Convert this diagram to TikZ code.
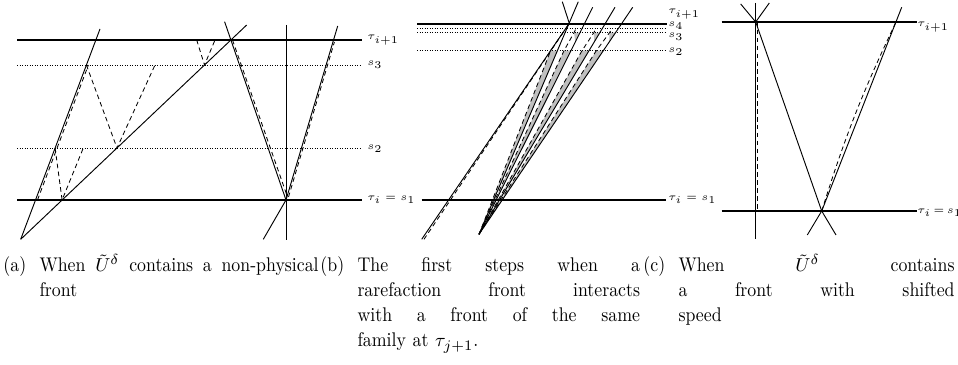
\documentclass[tikz,border=0pt]{standalone}
\usepackage{amsmath}
\usepackage{amssymb}
\usepackage{fontspec}
\newfontfamily\capfont{lmroman10-regular.otf}[FakeStretch=0.9]
\usetikzlibrary{positioning, calc}
\tikzset{
  level/.style={line width=0.5pt},
  sublevel/.style={line width=0.4pt, dash pattern=on 0.5pt off 0.7pt},
  front/.style={line width=0.45pt},
  approx/.style={line width=0.4pt, dash pattern=on 2.2pt off 1.6pt},
  fanshade/.style={fill=black!25, draw=none},
  lvla/.style={anchor=west, inner sep=0pt, font=\fontsize{4.5}{5}\selectfont},
  lvlb/.style={anchor=west, inner sep=0pt, font=\fontsize{5}{6}\selectfont},
  lvlc/.style={anchor=west, inner sep=0pt, font=\fontsize{5}{6}\selectfont},
  caplabel/.style={anchor=base west, inner sep=0pt, font=\capfont\fontsize{9.5}{12}\selectfont},
  capbody/.style={inner sep=0pt, align=left, font=\capfont\fontsize{9.5}{12}\selectfont},
}
\newcommand{\capline}[2]{\leavevmode\hbox to #1{#2}}
\newcommand{\gap}{\hspace{0pt plus 1fil}}

\begin{document}
\begin{tikzpicture}[x=0.48pt, y=-0.48pt]
  \useasboundingbox (0,0) rectangle (958,365);

  % (a) non-physical front
  \coordinate (aO) at (20.7,239.3);
  \coordinate (aP) at (62.1,200);
  \coordinate (aR) at (117,148);
  \coordinate (aS) at (204.5,65);
  \coordinate (aT) at (230.9,40);
  \coordinate (aQ) at (286,200);

  \draw[level] (17,40) -- (362,40);
  \draw[sublevel] (17,65) -- (362,65);
  \draw[sublevel] (17,148) -- (362,148);
  \draw[level] (17,200) -- (362,200);
  \node[lvla] (a-tau1) at (367,40) {$\tau_{i+1}$};
  \node[lvla] (a-s3) at (367,65) {$s_3$};
  \node[lvla] (a-s2) at (367,149) {$s_2$};
  \node[lvla] (a-tau0) at (367,200) {$\tau_i=s_1$};

  \draw[front] (aO) -- (100,29);
  \draw[approx] (37.5,200) -- (88.4,65);
  \draw[front] (aO) -- (246.7,25);
  \draw[approx] (55.1,148) -- (aP) -- (83.3,148);
  \draw[approx] (86.4,65) -- (aR) -- (155,65);
  \draw[approx] (196.7,40) -- (aS) -- (215,40);

  \draw[front] (224.6,21.7) -- (aQ);
  \draw[approx] (232.5,40) -- (287.5,197);
  \draw[front] (aQ) -- (337.7,26);
  \draw[approx] (288.5,197) -- (334.4,42);
  \draw[front] (286,25) -- (286,240);
  \draw[front] (263.3,239.3) -- (aQ);

  % (b) rarefaction meets a front of the same family
  \coordinate (bF) at (479,234.3);
  \coordinate (bM) at (569.3,23.3);

  \fill[fanshade] (bF) -- (550.6,50.7) -- (557.6,50.7) -- cycle;
  \fill[fanshade] (bF) -- (564,50.7) -- (571,50.7) -- cycle;
  \fill[fanshade] (bF) -- (582,50.7) -- (589,50.7) -- cycle;
  \fill[fanshade] (bF) -- (596.3,50.7) -- (603.3,50.7) -- cycle;
  \fill[fanshade] (575.3,42) -- (574,32.7) -- (580,32.7) -- cycle;
  \fill[fanshade] (594.2,42) -- (593.8,32.7) -- (599.8,32.7) -- cycle;
  \fill[fanshade] (609.2,42) -- (609.5,32.7) -- (615.5,32.7) -- cycle;

  \draw[level] (417,24) -- (667,24);
  \draw[sublevel] (417,28.5) -- (667,28.5);
  \draw[sublevel] (417,32.7) -- (667,32.7);
  \draw[sublevel] (417,50.7) -- (667,50.7);
  \draw[level] (421.7,200) -- (665.7,200);
  \node[lvlb] (b-tau1) at (668,14) {$\tau_{i+1}$};
  \node[lvlb] (b-s4) at (668,26) {$s_4$};
  \node[lvlb] (b-s3) at (668,37) {$s_3$};
  \node[lvlb] (b-s2) at (668,51.7) {$s_2$};
  \node[lvlb] (b-tau0) at (668,200) {$\tau_i=s_1$};

  \draw[approx] (bF) -- (550.6,50.7) -- (563,32.7);
  \draw[approx] (bF) -- (564,50.7) -- (574,32.7) -- (576,28.5);
  \draw[approx] (bF) -- (582,50.7) -- (593.8,32.7) -- (596,28.5);
  \draw[approx] (bF) -- (596.3,50.7) -- (609.5,32.7) -- (612,28.5);

  \draw[front] (421.7,239.3) -- (bM);
  \draw[approx] (424,239.3) -- (bM);
  \draw[front] (bF) -- (578.3,1.7);
  \draw[front] (bF) -- (592.7,7.3);
  \draw[front] (bF) -- (615,7.3);
  \draw[front] (bF) -- (632.7,7.3);
  \draw[front] (bM) -- (562.3,1.7);

  % (c) front with shifted speed
  \coordinate (cA) at (755.7,22);
  \coordinate (cB) at (821.7,211);

  \draw[level] (721.7,22) -- (916.7,22);
  \draw[level] (721.7,211) -- (916.7,211);
  \node[lvlc] (c-tau1) at (917,27) {$\tau_{i+1}$};
  \node[lvlc] (c-tau0) at (917,213) {$\tau_i\,{=}\,s_1$};

  \draw[front] (755.7,3) -- (755.7,239.3);
  \draw[approx] (757.7,22) -- (757.7,211);
  \draw[front] (740.7,4) -- (cA) -- (769.3,3);
  \draw[front] (cA) -- (cB) -- (836,235);
  \draw[front] (807.3,235) -- (cB) -- (901.7,7.3);
  \draw[approx] (cB) to[bend left=4] (896,22);

  % captions
  \node[caplabel] (cap-a) at (3,272) {(a)};
  \node[capbody, text width=134pt, right=6pt of cap-a.base east, anchor=base west]
    (cap-a-text) {\capline{134pt}{When\gap $\tilde{U}^{\delta}$\gap contains\gap a\gap non-physical}\\ front};
  \node[caplabel] (cap-b) at (320,272) {(b)};
  \node[capbody, text width=135.6pt, right=6pt of cap-b.base east, anchor=base west]
    (cap-b-text) {\capline{135.6pt}{The\gap first\gap steps\gap when\gap a}\\
    \capline{135.6pt}{rarefaction\gap front\gap interacts}\\
    \capline{135.6pt}{with\gap a\gap front\gap of\gap the\gap same}\\ family at $\tau_{j+1}$.};
  \node[caplabel] (cap-c) at (643,272) {(c)};
  \node[capbody, text width=132.5pt, right=6pt of cap-c.base east, anchor=base west]
    (cap-c-text) {\capline{132.5pt}{When\gap $\tilde{U}^{\delta}$\gap contains}\\
    \capline{132.5pt}{a\gap front\gap with\gap shifted}\\ speed};
\end{tikzpicture}
\end{document}
